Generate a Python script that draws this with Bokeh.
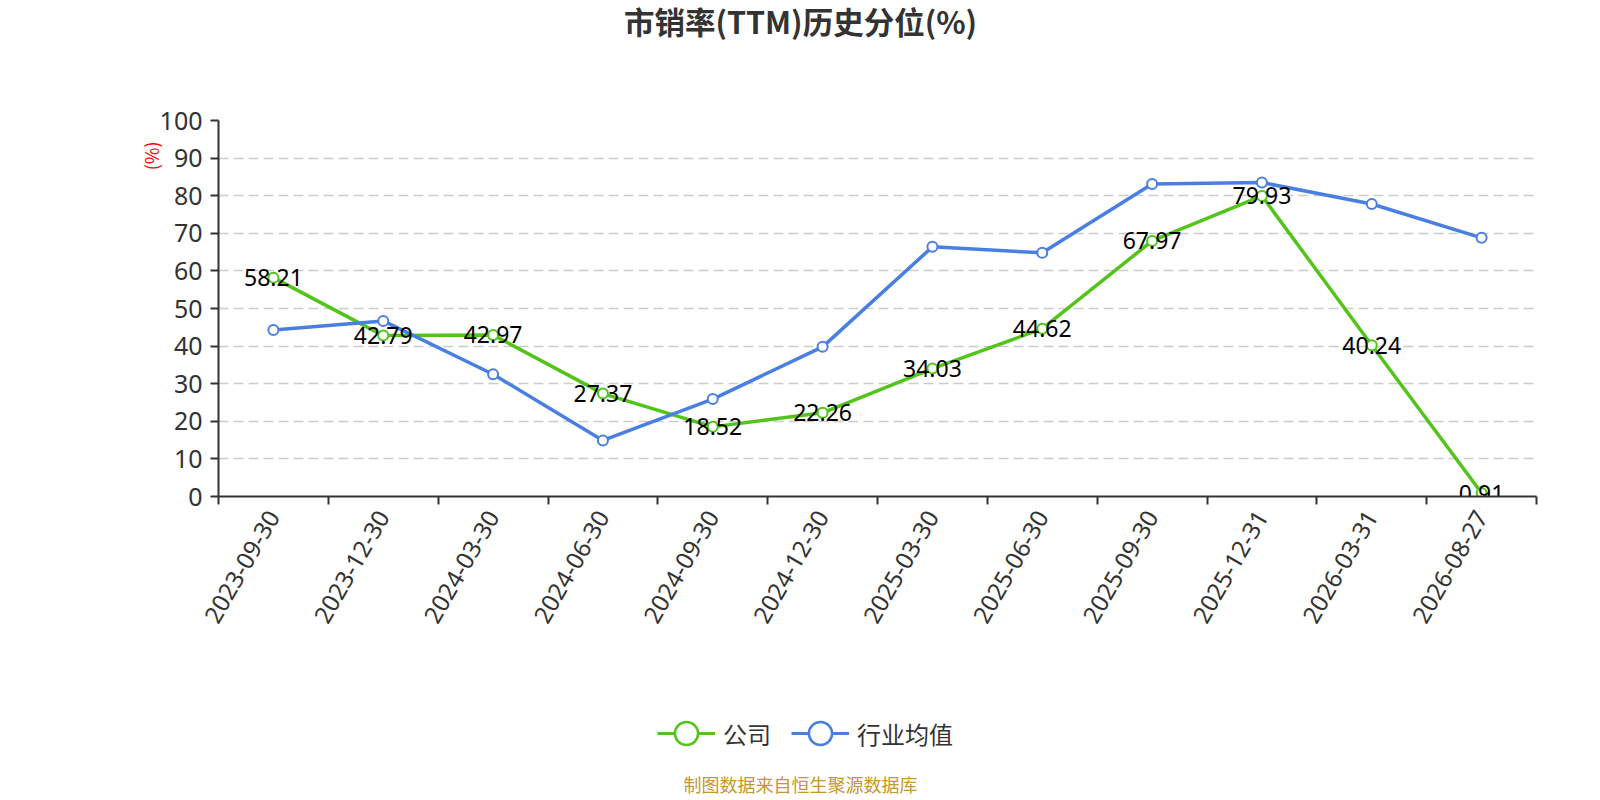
import math
from bokeh.plotting import figure
from bokeh.layouts import column
from bokeh.models import (Range1d, FixedTicker, ColumnDataSource, Title, Legend,
                          LegendItem, Label)
from bokeh.embed import file_html
from bokeh.resources import INLINE
from bokeh.core.properties import value

# ---------------- data ----------------
dates = ["2023-09-30", "2023-12-30", "2024-03-30", "2024-06-30", "2024-09-30",
         "2024-12-30", "2025-03-30", "2025-06-30", "2025-09-30", "2025-12-31",
         "2026-03-31", "2026-08-27"]
company = [58.21, 42.79, 42.97, 27.37, 18.52, 22.26, 34.03, 44.62, 67.97,
           79.93, 40.24, 0.91]
industry = [44.3, 46.7, 32.5, 14.9, 25.9, 39.8, 66.4, 64.8, 83.1, 83.5,
            77.8, 68.8]
y_ticks = [0, 10, 20, 30, 40, 50, 60, 70, 80, 90, 100]

title_text = "市销率(TTM)历史分位(%)"
series_names = ["公司", "行业均值"]
unit_text = "(%)"
footer_text = "制图数据来自恒生聚源数据库"

CJK = "Noto Sans CJK SC"
LATIN = "Noto Sans"
GREEN = "#52c41a"
BLUE = "#4a7fe2"

xs = [i + 0.5 for i in range(len(dates))]
src = ColumnDataSource(dict(
    x=xs, company=company, industry=industry,
    label=[f"{v:.2f}" for v in company],
))

W = 1592
H_TOP, H_MAIN, H_BOT = 100, 550, 148
LEFT = 218  # frame left edge (frames of the column are aligned)


def blank(h, **kw):
    f = figure(width=W, height=h, output_backend="svg", toolbar_location=None,
               x_axis_type=None, y_axis_type=None, min_border=0,
               outline_line_color=None, background_fill_color="white",
               border_fill_color="white", **kw)
    f.xgrid.visible = False
    f.ygrid.visible = False
    return f


# ---------------- title strip ----------------
top = blank(H_TOP, x_range=Range1d(0, 1), y_range=Range1d(0, 1))
top.add_layout(Label(x=800 - LEFT, y=H_TOP - 20, x_units="screen",
                     y_units="screen", text=title_text, text_font=CJK,
                     text_font_size="30.5px", text_font_style="bold",
                     text_color="#333333", text_align="center",
                     text_baseline="middle"))

# ---------------- main chart ----------------
p = figure(width=W, height=H_MAIN, output_backend="svg", toolbar_location=None,
           x_range=Range1d(0, len(dates)), y_range=Range1d(0, 100),
           min_border_left=LEFT, min_border_right=W - 1536, min_border_top=20,
           min_border_bottom=154, outline_line_color=None,
           background_fill_color="white", border_fill_color="white")

xa = p.xaxis[0]
xa.ticker = FixedTicker(ticks=xs, minor_ticks=list(range(len(dates) + 1)))
xa.major_label_overrides = {x: d for x, d in zip(xs, dates)}
xa.major_label_orientation = math.pi / 3
xa.major_tick_line_color = None
xa.major_tick_out = 0
xa.major_tick_in = 0
xa.minor_tick_line_color = "#333333"
xa.minor_tick_line_width = 2
xa.minor_tick_out = 8
xa.minor_tick_in = 0
xa.major_label_standoff = 8
xa.major_label_text_font = LATIN
xa.major_label_text_font_size = "24px"
xa.major_label_text_color = "#333333"
xa.axis_line_color = "#333333"
xa.axis_line_width = 2

ya = p.yaxis[0]
ya.ticker = FixedTicker(ticks=y_ticks)
ya.minor_tick_line_color = None
ya.major_tick_line_color = "#333333"
ya.major_tick_line_width = 2
ya.major_tick_out = 8
ya.major_tick_in = 0
ya.major_label_standoff = 8
ya.major_label_text_font = LATIN
ya.major_label_text_font_size = "25px"
ya.major_label_text_color = "#333333"
ya.axis_line_color = "#333333"
ya.axis_line_width = 2

p.xgrid.grid_line_color = None
p.ygrid.grid_line_color = "#cccccc"
p.ygrid.grid_line_dash = "10 5"
p.ygrid.grid_line_width = 1.5
p.ygrid.ticker = FixedTicker(ticks=y_ticks)

l1 = p.line("x", "company", source=src, line_color=GREEN, line_width=3.5)
s1 = p.scatter("x", "company", source=src, size=10, marker="circle",
               fill_color="white", line_color=GREEN, line_width=2)
l2 = p.line("x", "industry", source=src, line_color=BLUE, line_width=3.5)
s2 = p.scatter("x", "industry", source=src, size=10, marker="circle",
               fill_color="white", line_color=BLUE, line_width=2)

p.text("x", "company", text="label", source=src, text_font=value(LATIN),
       text_font_size="23px", text_align="center", text_baseline="middle",
       text_color="black")

p.add_layout(Title(text=unit_text, align="right", offset=21, standoff=-14,
                   text_font=CJK, text_font_size="18px",
                   text_font_style="normal", text_color="red"), "left")

# ---------------- legend + footer strip ----------------
bot = blank(H_BOT, x_range=Range1d(0, len(dates)), y_range=Range1d(1000, 2000))
lg1 = bot.line("x", "company", source=src, line_color=GREEN, line_width=3)
sg1 = bot.scatter("x", "company", source=src, marker="circle",
                  fill_color="white", line_color=GREEN, line_width=2.5)
lg2 = bot.line("x", "industry", source=src, line_color=BLUE, line_width=3)
sg2 = bot.scatter("x", "industry", source=src, marker="circle",
                  fill_color="white", line_color=BLUE, line_width=2.5)
legend = Legend(items=[LegendItem(label=series_names[0], renderers=[lg1, sg1]),
                       LegendItem(label=series_names[1], renderers=[lg2, sg2])],
                orientation="horizontal", location=(657 - LEFT, 35),
                glyph_width=58, glyph_height=60, label_standoff=8,
                spacing=20, padding=0, margin=0,
                border_line_color=None, background_fill_alpha=0,
                label_text_font=CJK, label_text_font_size="24px",
                label_text_color="#333333")
bot.add_layout(legend, "center")
bot.add_layout(Label(x=800 - LEFT, y=15, x_units="screen", y_units="screen",
                     text=footer_text, text_font=CJK, text_font_size="18px",
                     text_color="#c8962d", text_align="center",
                     text_baseline="middle"))

layout = column(top, p, bot, spacing=0)
open("out.html", "w").write(file_html(layout, INLINE))
